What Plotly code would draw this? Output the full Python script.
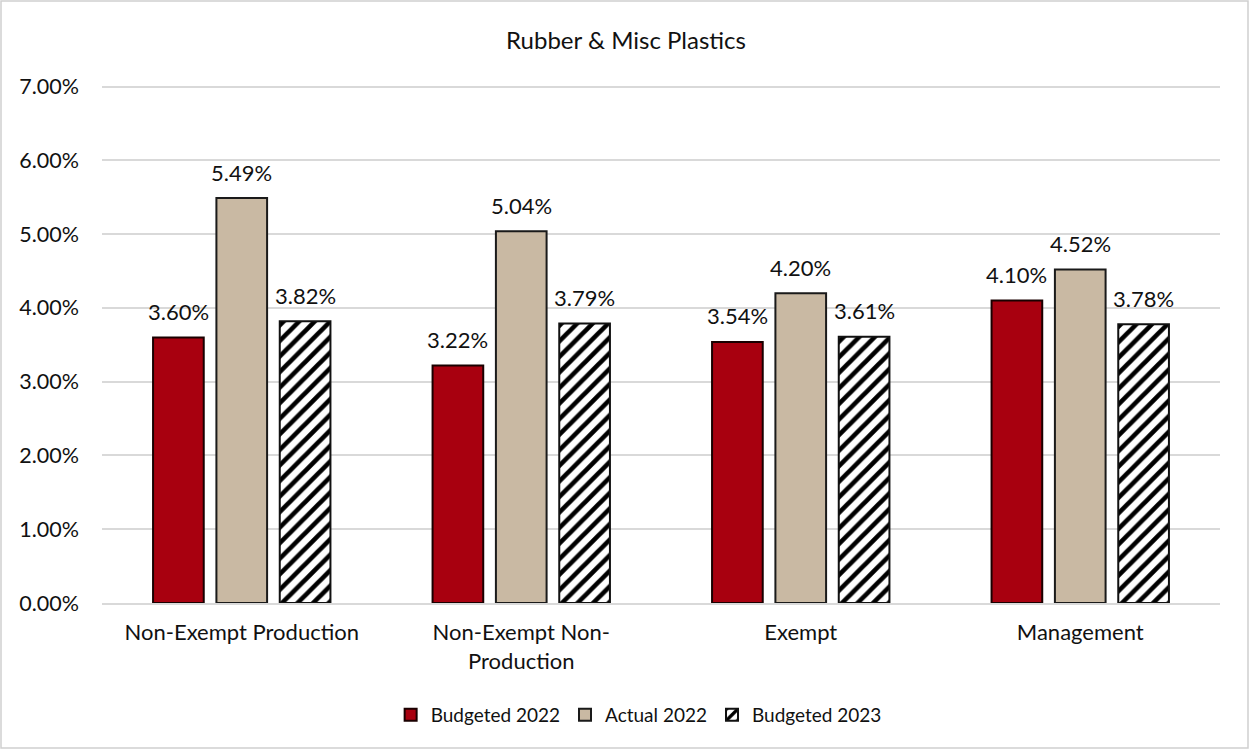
import plotly.graph_objects as go

categories = ["Non-Exempt Production", "Non-Exempt Non-<br>Production", "Exempt", "Management"]
budgeted_2022 = [3.60, 3.22, 3.54, 4.10]
actual_2022 = [5.49, 5.04, 4.20, 4.52]
budgeted_2023 = [3.82, 3.79, 3.61, 3.78]
series_names = ["Budgeted 2022", "Actual 2022", "Budgeted 2023"]
y_ticks = [0, 1, 2, 3, 4, 5, 6, 7]
y_tick_labels = ["0.00%", "1.00%", "2.00%", "3.00%", "4.00%", "5.00%", "6.00%", "7.00%"]

W, H = 1250, 751
ml, mr, mt, mb = 102, 30, 83, 148
FONT = "Lato"
BARGAP = 0.32

fig = go.Figure()
fig.add_trace(go.Bar(name=series_names[0], x=categories, y=budgeted_2022,
                     marker=dict(color="#A8000F", line=dict(color="#1a0000", width=2))))
fig.add_trace(go.Bar(name=series_names[1], x=categories, y=actual_2022,
                     marker=dict(color="#C9B9A3", line=dict(color="#1a1a1a", width=2))))
fig.add_trace(go.Bar(name=series_names[2], x=categories, y=budgeted_2023,
                     marker=dict(color="white", line=dict(color="#111111", width=2),
                                 pattern=dict(shape="/", fgcolor="black", bgcolor="white",
                                              fgopacity=1, size=11, solidity=0.42))))

# data labels above bars, positioned on the category axis
slot = (1 - BARGAP) / 3
for i, vals in enumerate([budgeted_2022, actual_2022, budgeted_2023]):
    for k, v in enumerate(vals):
        fig.add_annotation(x=k + (i - 1) * slot, y=v, xref="x", yref="y",
                           text=f"{v:.2f}%", showarrow=False, yanchor="middle", yshift=26,
                           font=dict(size=22, family=FONT, color="#111111"))

pw = W - ml - mr
ph = H - mt - mb
fig.add_shape(type="rect", xref="paper", yref="paper",
              x0=(1 - ml) / pw, x1=(W - 2 - ml) / pw,
              y0=-(H - 3 - mt - ph) / ph, y1=1 + (mt - 1) / ph,
              line=dict(color="#D0D0D0", width=1.5), layer="below")

fig.update_layout(
    width=W, height=H,
    margin=dict(l=ml, r=mr, t=mt, b=mb),
    paper_bgcolor="white", plot_bgcolor="white",
    font=dict(family=FONT, size=18, color="#111111"),
    title=dict(text="Rubber & Misc Plastics", x=626 / W, xanchor="center",
               y=1 - 41 / H, yanchor="middle", font=dict(size=24, family=FONT, color="#111111")),
    barmode="group", bargap=BARGAP, bargroupgap=0.2,
    legend=dict(orientation="h", x=0.48, xanchor="center", y=-(715 - 603) / ph, yanchor="middle",
                font=dict(size=19, family=FONT, color="#111111"), itemwidth=30, traceorder="normal"),
    showlegend=True,
)
fig.update_yaxes(range=[0, 7.05], tickvals=y_ticks, ticktext=y_tick_labels,
                 showgrid=True, gridcolor="#D9D9D9", gridwidth=1.5, zeroline=False,
                 showline=False, ticks="", ticklabelstandoff=22,
                 tickfont=dict(size=21.5, family=FONT, color="#111111"))
fig.update_xaxes(showline=True, linecolor="#D9D9D9", linewidth=1.5, ticks="",
                 ticklabelstandoff=9,
                 tickfont=dict(size=22, family=FONT, color="#111111"))

fig.write_html("out.html")
